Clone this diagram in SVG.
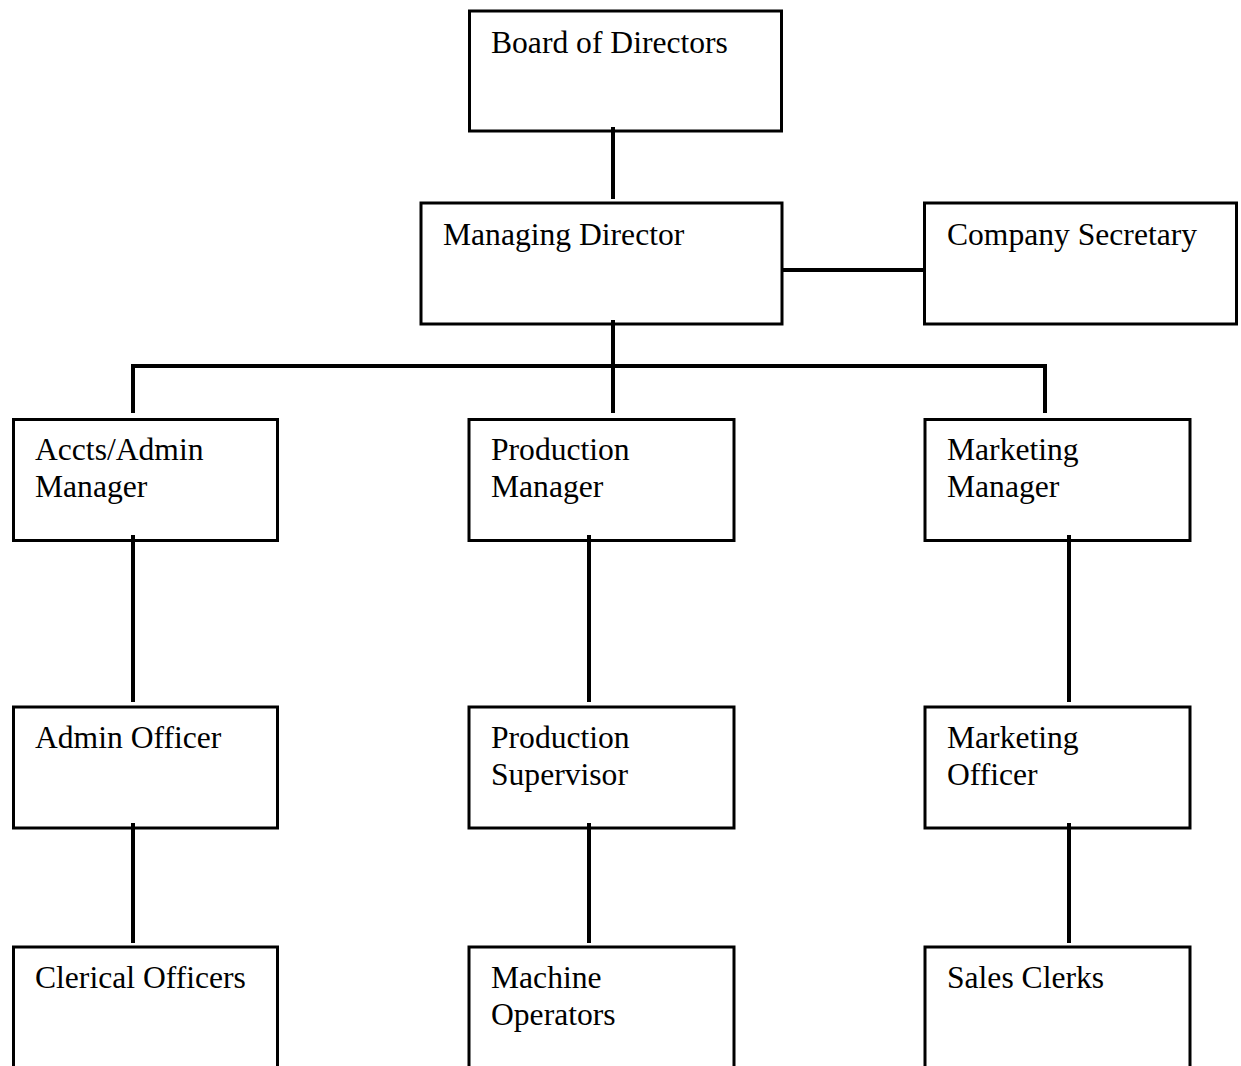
<svg xmlns="http://www.w3.org/2000/svg" width="1241" height="1066" viewBox="0 0 1241 1066">
<style>
.box{fill:#fff;stroke:#000;stroke-width:3}
.open{fill:none;stroke:#000;stroke-width:3}
.lbl{font-family:"Liberation Serif","Times New Roman",serif;font-size:31.6px;fill:#000}
.conn{fill:none;stroke:#000;stroke-width:4}
</style>
<rect width="1241" height="1066" fill="#fff"/>
<g id="board"><rect class="box" x="469.5" y="11" width="312" height="120"/><text class="lbl" x="491" y="53">Board of Directors</text></g>
<g id="md"><rect class="box" x="421" y="203" width="361" height="121"/><text class="lbl" x="443" y="245">Managing Director</text></g>
<g id="cs"><rect class="box" x="924.5" y="203" width="312" height="121"/><text class="lbl" x="947" y="245">Company Secretary</text></g>
<g id="accts"><rect class="box" x="13.5" y="419.5" width="264" height="121"/><text class="lbl" x="35" y="460">Accts/Admin</text><text class="lbl" x="35" y="497">Manager</text></g>
<g id="prodmgr"><rect class="box" x="469" y="419.5" width="265" height="121"/><text class="lbl" x="491" y="460">Production</text><text class="lbl" x="491" y="497">Manager</text></g>
<g id="mktmgr"><rect class="box" x="925" y="419.5" width="265" height="121"/><text class="lbl" x="947" y="460">Marketing</text><text class="lbl" x="947" y="497">Manager</text></g>
<g id="adminoff"><rect class="box" x="13.5" y="707" width="264" height="121"/><text class="lbl" x="35" y="748">Admin Officer</text></g>
<g id="prodsup"><rect class="box" x="469" y="707" width="265" height="121"/><text class="lbl" x="491" y="748">Production</text><text class="lbl" x="491" y="785">Supervisor</text></g>
<g id="mktoff"><rect class="box" x="925" y="707" width="265" height="121"/><text class="lbl" x="947" y="748">Marketing</text><text class="lbl" x="947" y="785">Officer</text></g>
<g id="clerical"><path class="open" d="M13.5,1066 V947 H277.5 V1066"/><text class="lbl" x="35" y="988">Clerical Officers</text></g>
<g id="machine"><path class="open" d="M469,1066 V947 H734 V1066"/><text class="lbl" x="491" y="988">Machine</text><text class="lbl" x="491" y="1025">Operators</text></g>
<g id="sales"><path class="open" d="M925,1066 V947 H1190 V1066"/><text class="lbl" x="947" y="988">Sales Clerks</text></g>
<g id="connectors">
<line class="conn" x1="613" y1="127" x2="613" y2="199"/>
<line class="conn" x1="613" y1="320" x2="613" y2="413"/>
<polyline class="conn" points="133,413 133,366 1045,366 1045,413"/>
<line class="conn" x1="782" y1="270" x2="924" y2="270"/>
<line class="conn" x1="133" y1="535" x2="133" y2="702"/>
<line class="conn" x1="589" y1="535" x2="589" y2="702"/>
<line class="conn" x1="1069" y1="535" x2="1069" y2="702"/>
<line class="conn" x1="133" y1="823" x2="133" y2="943"/>
<line class="conn" x1="589" y1="823" x2="589" y2="943"/>
<line class="conn" x1="1069" y1="823" x2="1069" y2="943"/>
</g>
</svg>
